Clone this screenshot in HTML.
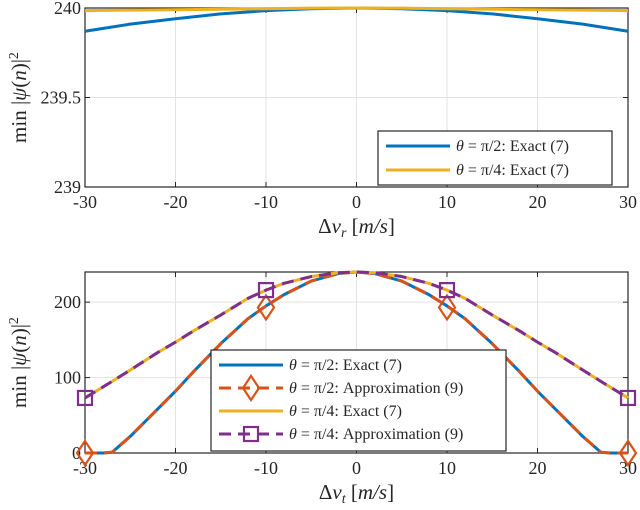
<!DOCTYPE html>
<html><head><meta charset="utf-8"><style>body{margin:0;background:#fff}svg{display:block;font-family:"Liberation Serif",serif}</style></head>
<body>
<svg id="c" width="640" height="510"></svg>
<script>
const xTicks=[-30,-20,-10,0,10,20,30];
const topYTicks=[239,239.5,240];
const topYLabels=["239","239.5","240"];
const topX=[-30,-25,-20,-15,-10,-5,0,5,10,15,20,25,30];
const topBlue=[239.87,239.91,239.94,239.967,239.985,239.996,240,239.996,239.985,239.967,239.94,239.91,239.87];
const topYellow=[239.985,239.988,239.99,239.993,239.996,239.999,240,239.999,239.996,239.993,239.99,239.988,239.985];
const botYTicks=[0,100,200];
const botX=[-30,-28,-27,-25,-22,-20,-18,-15,-12,-10,-8,-5,-2,0,2,5,8,10,12,15,18,20,22,25,27,28,30];
const botBlue=[0,0,1,22,58,82,108,145,178,195,210,228,238,240,238,228,210,195,178,145,108,82,58,22,1,0,0];
const botYellowX=[-30,-27,-25,-22,-20,-18,-15,-12,-10,-8,-5,-2,0,2,5,8,10,12,15,18,20,22,25,27,30];
const botYellow=[73,95,110,133,147,162,183,205,216,225,234,239,240,239,234,225,216,205,183,162,147,133,110,95,73];
const diamondX=[-30,-10,10,30];
const diamondY=[0,193,193,0];
const squareX=[-30,-10,10,30];
const squareY=[73,216,216,73];

const svg=document.getElementById('c');
const NS='http://www.w3.org/2000/svg';
function mk(t,a,p){const e=document.createElementNS(NS,t);for(const k in a)e.setAttribute(k,a[k]);(p||svg).appendChild(e);return e;}
const L=85,R=628;
const sx=v=>L+(v+30)/60*(R-L);
function axes(top,bot,ymin,ymax,yt,yl,sub,name){
  const sy=v=>bot-(v-ymin)/(ymax-ymin)*(bot-top);
  const g=mk('g',{});
  
  
  xTicks.forEach(t=>{const l=mk('line',{x1:sx(t),x2:sx(t),y1:top,y2:bot,stroke:'#e3e3e3','stroke-width':1},g);
    
    const tk=mk('text',{x:sx(t),y:bot+21,'text-anchor':'middle','font-size':18,fill:'#262626'},g);tk.textContent=t;
    
    mk('line',{x1:sx(t),x2:sx(t),y1:bot,y2:bot-5,stroke:'#262626'},g);mk('line',{x1:sx(t),x2:sx(t),y1:top,y2:top+5,stroke:'#262626'},g);});
  yt.forEach((t,i)=>{const l=mk('line',{x1:L,x2:R,y1:sy(t),y2:sy(t),stroke:'#e3e3e3'},g);
    
    const tk=mk('text',{x:L-4,y:sy(t)+6,'text-anchor':'end','font-size':18,fill:'#262626'},g);tk.textContent=yl[i];
    
    mk('line',{x1:L,x2:L+5,y1:sy(t),y2:sy(t),stroke:'#262626'},g);mk('line',{x1:R,x2:R-5,y1:sy(t),y2:sy(t),stroke:'#262626'},g);});
  const b=mk('rect',{x:L,y:top,width:R-L,height:bot-top,fill:'none',stroke:'#262626','stroke-width':1.2},g);
  
  const xl=mk('text',{x:(L+R)/2,y:bot+46,'text-anchor':'middle','font-size':21,fill:'#262626'},g);
  xl.innerHTML='Δ<tspan font-style="italic">v</tspan><tspan font-size="14" font-style="italic" dy="4">'+sub+'</tspan><tspan dy="-4"> [</tspan><tspan font-style="italic">m/s</tspan>]';
  
  const yl2=mk('text',{x:0,y:0,'text-anchor':'middle','font-size':21,fill:'#262626',transform:`translate(26,${(top+bot)/2}) rotate(-90)`},g);
  yl2.innerHTML='min |<tspan font-style="italic">ψ</tspan>(<tspan font-style="italic">n</tspan>)|<tspan font-size="14" dy="-8">2</tspan>';
  
  return sy;
}
function line(xs,ys,sy,color,dash,name){
  const p=mk('polyline',{points:xs.map((x,i)=>sx(x)+','+sy(ys[i])).join(' '),fill:'none',stroke:color,'stroke-width':3,'stroke-dasharray':dash||'none','stroke-linejoin':'round'});
  
}
const sy1=axes(8,187,239,240,topYTicks,topYLabels,'r','top-axes');
line(topX,topBlue,sy1,'#0072BD',null,'top-blue-line');
line(topX,topYellow,sy1,'#EDB120',null,'top-yellow-line');
const sy2=axes(272,453,0,240,botYTicks,["0","100","200"],'t','bottom-axes');
line(botX,botBlue,sy2,'#0072BD',null,'bottom-blue-line');
line(botX,botBlue,sy2,'#D95319','12,7','bottom-orange-dashed-line');
line(botYellowX,botYellow,sy2,'#EDB120',null,'bottom-yellow-line');
line(botYellowX,botYellow,sy2,'#7E2F8E','12,7','bottom-purple-dashed-line');
function diamond(cx,cy,g){return mk('polygon',{points:`${cx},${cy-12} ${cx+8},${cy} ${cx},${cy+12} ${cx-8},${cy}`,fill:'none',stroke:'#D95319','stroke-width':2.2},g);}
function square(cx,cy,g){return mk('rect',{x:cx-7,y:cy-7,width:14,height:14,fill:'none',stroke:'#7E2F8E','stroke-width':2.2},g);}
diamondX.forEach((x,i)=>{const d=diamond(sx(x),sy2(diamondY[i]));});
squareX.forEach((x,i)=>{const s=square(sx(x),sy2(squareY[i]));});
function legend(x,y,w,h,items,name,first,step){
  const g=mk('g',{});
  mk('rect',{x,y,width:w,height:h,fill:'#fff',stroke:'#262626','stroke-width':1.2},g);
  items.forEach((it,i)=>{const yy=y+first+i*step;
    mk('line',{x1:x+8,x2:x+72,y1:yy,y2:yy,stroke:it.c,'stroke-width':3,'stroke-dasharray':it.d||'none'},g);
    if(it.m==='d')diamond(x+40,yy,g);if(it.m==='s')square(x+40,yy,g);
    const t=mk('text',{x:x+78,y:yy+5,'font-size':16,fill:'#262626'},g);
    t.innerHTML='<tspan font-style="italic">θ</tspan> = π/'+it.a+': '+it.t;
    });
}
legend(378,131,234,54,[{c:'#0072BD',a:2,t:'Exact (7)'},{c:'#EDB120',a:4,t:'Exact (7)'}],'top-legend',15,24);
legend(211,350,295,101,[{c:'#0072BD',a:2,t:'Exact (7)'},{c:'#D95319',a:2,t:'Approximation (9)',d:'12,7',m:'d'},{c:'#EDB120',a:4,t:'Exact (7)'},{c:'#7E2F8E',a:4,t:'Approximation (9)',d:'12,7',m:'s'}],'bottom-legend',15,23);
</script>
</body></html>
